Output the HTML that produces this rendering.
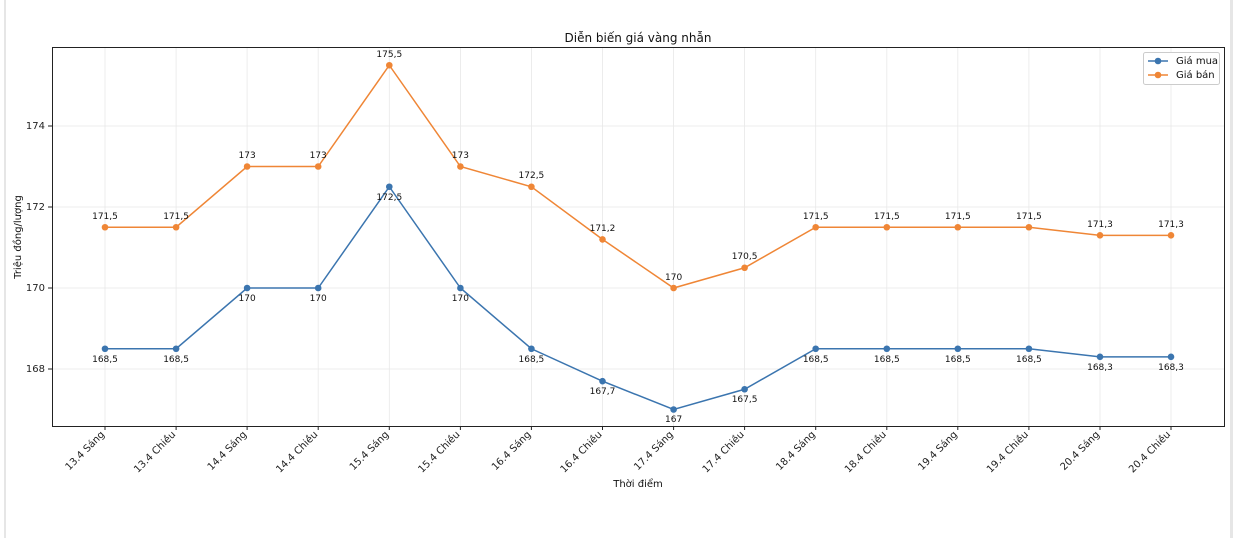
<!DOCTYPE html><html><head><meta charset="utf-8"><style>body{margin:0;background:#fff}svg{display:block;font-family:"DejaVu Sans","Liberation Sans",sans-serif}</style></head><body>
<svg width="1238" height="538" viewBox="0 0 1238 538">
<rect x="4" y="0" width="2" height="538" fill="#e6e6e6"/><rect x="1230" y="0" width="3" height="538" fill="#e6e6e6"/>
<g stroke="#e8e8e8" stroke-width="0.8">
<line x1="53" x2="1224" y1="369" y2="369"/><line x1="53" x2="1224" y1="288" y2="288"/><line x1="53" x2="1224" y1="207" y2="207"/><line x1="53" x2="1224" y1="126" y2="126"/>
<line x1="105" x2="105" y1="47" y2="426"/><line x1="176.1" x2="176.1" y1="47" y2="426"/><line x1="247.1" x2="247.1" y1="47" y2="426"/><line x1="318.2" x2="318.2" y1="47" y2="426"/><line x1="389.3" x2="389.3" y1="47" y2="426"/><line x1="460.4" x2="460.4" y1="47" y2="426"/><line x1="531.4" x2="531.4" y1="47" y2="426"/><line x1="602.5" x2="602.5" y1="47" y2="426"/><line x1="673.6" x2="673.6" y1="47" y2="426"/><line x1="744.6" x2="744.6" y1="47" y2="426"/><line x1="815.7" x2="815.7" y1="47" y2="426"/><line x1="886.8" x2="886.8" y1="47" y2="426"/><line x1="957.8" x2="957.8" y1="47" y2="426"/><line x1="1028.9" x2="1028.9" y1="47" y2="426"/><line x1="1100" x2="1100" y1="47" y2="426"/><line x1="1171" x2="1171" y1="47" y2="426"/>
</g>
<rect x="52.5" y="47.5" width="1172" height="379" fill="none" stroke="#222" stroke-width="1"/>
<g stroke="#222"><line x1="48" x2="52" y1="369" y2="369"/><line x1="48" x2="52" y1="288" y2="288"/><line x1="48" x2="52" y1="207" y2="207"/><line x1="48" x2="52" y1="126" y2="126"/></g>
<g font-size="10" fill="#222" text-anchor="end"><text x="45" y="372">168</text><text x="45" y="291">170</text><text x="45" y="210">172</text><text x="45" y="129">174</text></g>
<text x="638" y="42" font-size="12" text-anchor="middle" fill="#111">Diễn biến giá vàng nhẫn</text>
<text x="638" y="487" font-size="10" text-anchor="middle" fill="#111">Thời điểm</text>
<text transform="translate(21,237) rotate(-90)" font-size="10" text-anchor="middle" fill="#111">Triệu đồng/lượng</text>
<g font-size="10" fill="#222" text-anchor="end">
<text transform="translate(105,435) rotate(-45)">13.4 Sáng</text><text transform="translate(176.1,435) rotate(-45)">13.4 Chiều</text><text transform="translate(247.1,435) rotate(-45)">14.4 Sáng</text><text transform="translate(318.2,435) rotate(-45)">14.4 Chiều</text><text transform="translate(389.3,435) rotate(-45)">15.4 Sáng</text><text transform="translate(460.4,435) rotate(-45)">15.4 Chiều</text><text transform="translate(531.4,435) rotate(-45)">16.4 Sáng</text><text transform="translate(602.5,435) rotate(-45)">16.4 Chiều</text><text transform="translate(673.6,435) rotate(-45)">17.4 Sáng</text><text transform="translate(744.6,435) rotate(-45)">17.4 Chiều</text><text transform="translate(815.7,435) rotate(-45)">18.4 Sáng</text><text transform="translate(886.8,435) rotate(-45)">18.4 Chiều</text><text transform="translate(957.8,435) rotate(-45)">19.4 Sáng</text><text transform="translate(1028.9,435) rotate(-45)">19.4 Chiều</text><text transform="translate(1100,435) rotate(-45)">20.4 Sáng</text><text transform="translate(1171,435) rotate(-45)">20.4 Chiều</text>
</g>
<g stroke="#222"><line x1="105" x2="105" y1="426" y2="430"/><line x1="176.1" x2="176.1" y1="426" y2="430"/><line x1="247.1" x2="247.1" y1="426" y2="430"/><line x1="318.2" x2="318.2" y1="426" y2="430"/><line x1="389.3" x2="389.3" y1="426" y2="430"/><line x1="460.4" x2="460.4" y1="426" y2="430"/><line x1="531.4" x2="531.4" y1="426" y2="430"/><line x1="602.5" x2="602.5" y1="426" y2="430"/><line x1="673.6" x2="673.6" y1="426" y2="430"/><line x1="744.6" x2="744.6" y1="426" y2="430"/><line x1="815.7" x2="815.7" y1="426" y2="430"/><line x1="886.8" x2="886.8" y1="426" y2="430"/><line x1="957.8" x2="957.8" y1="426" y2="430"/><line x1="1028.9" x2="1028.9" y1="426" y2="430"/><line x1="1100" x2="1100" y1="426" y2="430"/><line x1="1171" x2="1171" y1="426" y2="430"/></g>
<polyline fill="none" stroke="#3b75af" stroke-width="1.5" points="105,348.75 176.1,348.75 247.1,288 318.2,288 389.3,186.75 460.4,288 531.4,348.75 602.5,381.15 673.6,409.5 744.6,389.25 815.7,348.75 886.8,348.75 957.8,348.75 1028.9,348.75 1100,356.85 1171,356.85"/>
<polyline fill="none" stroke="#ef8636" stroke-width="1.5" points="105,227.25 176.1,227.25 247.1,166.5 318.2,166.5 389.3,65.25 460.4,166.5 531.4,186.75 602.5,239.4 673.6,288 744.6,267.75 815.7,227.25 886.8,227.25 957.8,227.25 1028.9,227.25 1100,235.35 1171,235.35"/>
<g fill="#3b75af"><circle cx="105" cy="348.75" r="3.3"/><circle cx="176.1" cy="348.75" r="3.3"/><circle cx="247.1" cy="288" r="3.3"/><circle cx="318.2" cy="288" r="3.3"/><circle cx="389.3" cy="186.75" r="3.3"/><circle cx="460.4" cy="288" r="3.3"/><circle cx="531.4" cy="348.75" r="3.3"/><circle cx="602.5" cy="381.15" r="3.3"/><circle cx="673.6" cy="409.5" r="3.3"/><circle cx="744.6" cy="389.25" r="3.3"/><circle cx="815.7" cy="348.75" r="3.3"/><circle cx="886.8" cy="348.75" r="3.3"/><circle cx="957.8" cy="348.75" r="3.3"/><circle cx="1028.9" cy="348.75" r="3.3"/><circle cx="1100" cy="356.85" r="3.3"/><circle cx="1171" cy="356.85" r="3.3"/></g>
<g fill="#ef8636"><circle cx="105" cy="227.25" r="3.3"/><circle cx="176.1" cy="227.25" r="3.3"/><circle cx="247.1" cy="166.5" r="3.3"/><circle cx="318.2" cy="166.5" r="3.3"/><circle cx="389.3" cy="65.25" r="3.3"/><circle cx="460.4" cy="166.5" r="3.3"/><circle cx="531.4" cy="186.75" r="3.3"/><circle cx="602.5" cy="239.4" r="3.3"/><circle cx="673.6" cy="288" r="3.3"/><circle cx="744.6" cy="267.75" r="3.3"/><circle cx="815.7" cy="227.25" r="3.3"/><circle cx="886.8" cy="227.25" r="3.3"/><circle cx="957.8" cy="227.25" r="3.3"/><circle cx="1028.9" cy="227.25" r="3.3"/><circle cx="1100" cy="235.35" r="3.3"/><circle cx="1171" cy="235.35" r="3.3"/></g>
<g font-size="9" fill="#111" text-anchor="middle">
<text x="105" y="362">168,5</text><text x="176.1" y="362">168,5</text><text x="247.1" y="301">170</text><text x="318.2" y="301">170</text><text x="389.3" y="200">172,5</text><text x="460.4" y="301">170</text><text x="531.4" y="362">168,5</text><text x="602.5" y="394">167,7</text><text x="673.6" y="422">167</text><text x="744.6" y="402">167,5</text><text x="815.7" y="362">168,5</text><text x="886.8" y="362">168,5</text><text x="957.8" y="362">168,5</text><text x="1028.9" y="362">168,5</text><text x="1100" y="370">168,3</text><text x="1171" y="370">168,3</text>
<text x="105" y="219">171,5</text><text x="176.1" y="219">171,5</text><text x="247.1" y="158">173</text><text x="318.2" y="158">173</text><text x="389.3" y="57">175,5</text><text x="460.4" y="158">173</text><text x="531.4" y="178">172,5</text><text x="602.5" y="231">171,2</text><text x="673.6" y="280">170</text><text x="744.6" y="259">170,5</text><text x="815.7" y="219">171,5</text><text x="886.8" y="219">171,5</text><text x="957.8" y="219">171,5</text><text x="1028.9" y="219">171,5</text><text x="1100" y="227">171,3</text><text x="1171" y="227">171,3</text>
</g>
<rect x="1143.5" y="52.5" width="76" height="32" rx="2" fill="#fff" stroke="#ccc"/>
<line x1="1148" x2="1168" y1="61" y2="61" stroke="#3b75af" stroke-width="1.5"/><circle cx="1158" cy="61" r="3.3" fill="#3b75af"/>
<line x1="1148" x2="1168" y1="75" y2="75" stroke="#ef8636" stroke-width="1.5"/><circle cx="1158" cy="75" r="3.3" fill="#ef8636"/>
<g font-size="10" fill="#111"><text x="1176" y="64">Giá mua</text><text x="1176" y="78">Giá bán</text></g>
</svg></body></html>
